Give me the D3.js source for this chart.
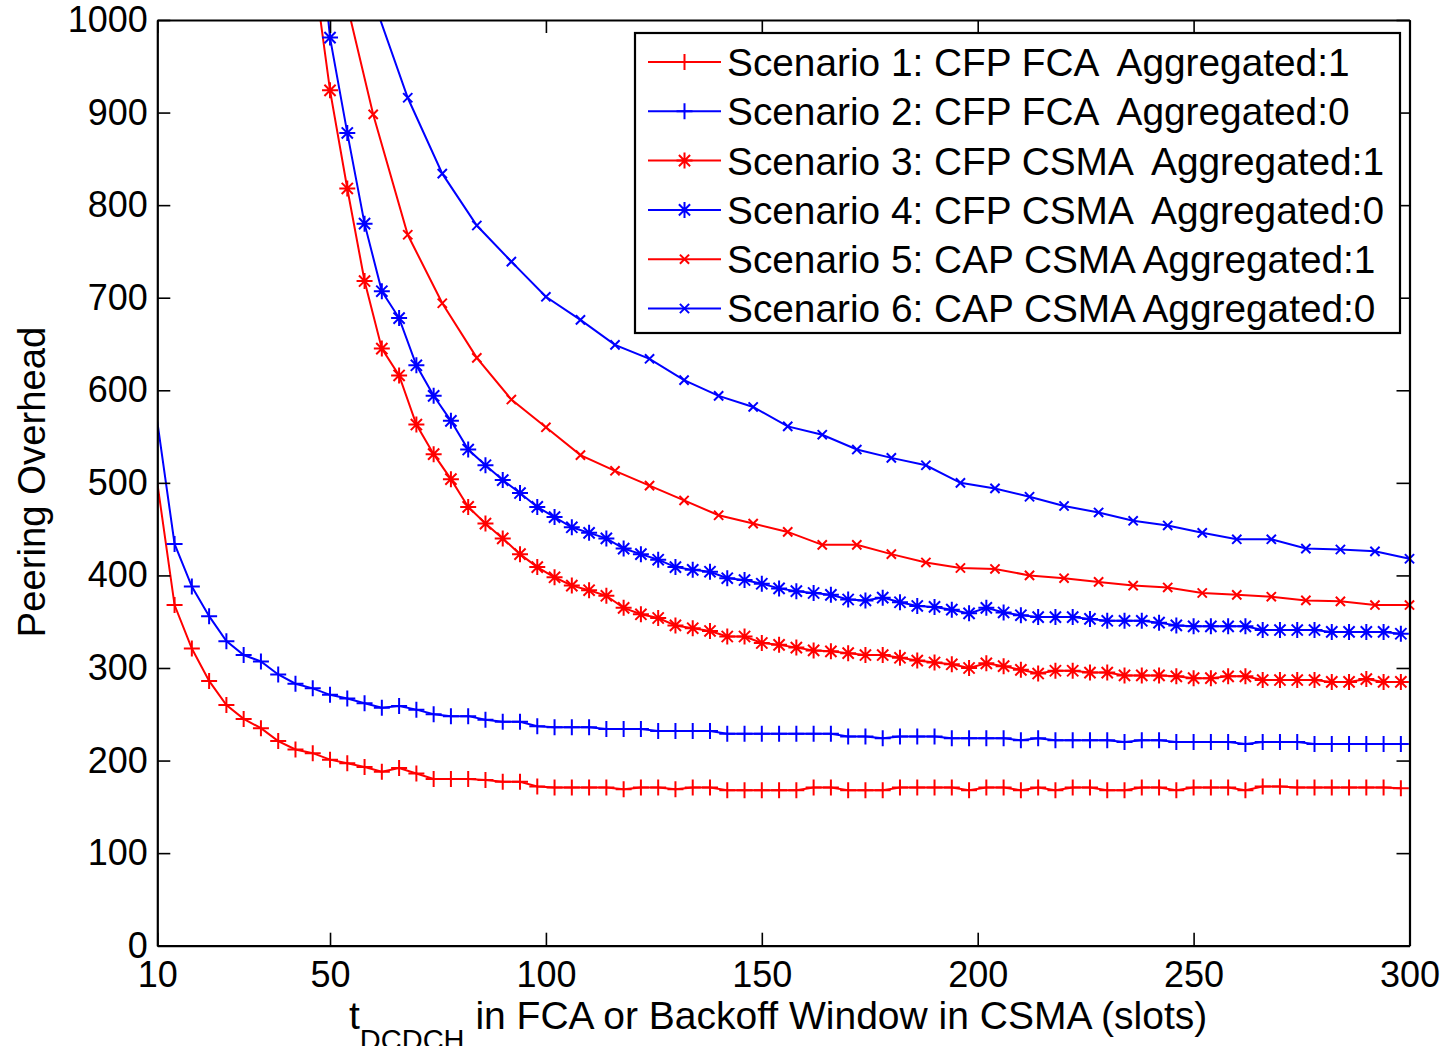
<!DOCTYPE html>
<html>
<head>
<meta charset="utf-8">
<script src="https://cdn.jsdelivr.net/npm/d3@7"></script>
<style>
  html, body { margin: 0; padding: 0; background: #fff; }
  text { font-family: "Liberation Sans", Arial, sans-serif; fill: #000; }
</style>
</head>
<body>
<svg id="chart" width="1443" height="1046"></svg>
<script>
var W = 1443, H = 1046;

// x grids (slots)
var xFine = d3.range(10, 299, 4);      // scenarios 1,2
var xStar = d3.range(46, 299, 4);      // scenarios 3,4
var xCross = d3.range(52, 301, 8);     // scenarios 5,6

// series values
var s1 = [500, 368, 321, 286, 260, 245, 235, 221, 212, 208,
  201, 197, 193, 188, 192, 186, 180, 180, 180, 179,
  177, 177, 172, 171, 171, 171, 171, 169, 171, 171,
  169, 171, 171, 168, 168, 168, 168, 168, 171, 171,
  168, 168, 168, 171, 171, 171, 171, 168, 171, 171,
  168, 171, 168, 171, 171, 168, 168, 171, 171, 168,
  171, 171, 171, 168, 172, 172, 171, 171, 171, 171,
  171, 171, 170];
var s2 = [566, 434, 388, 356, 329, 314, 307, 293, 283, 278,
  271, 267, 262, 257, 259, 255, 250, 248, 248, 244,
  242, 242, 237, 236, 236, 236, 234, 234, 234, 232,
  232, 232, 232, 229, 229, 229, 229, 229, 229, 229,
  226, 226, 224, 226, 226, 226, 224, 224, 224, 224,
  222, 224, 222, 222, 222, 222, 220, 222, 222, 220,
  220, 220, 220, 218, 220, 220, 220, 218, 218, 218,
  218, 218, 218];
var s3 = [1062, 924, 818, 718, 645, 616, 563, 531, 504, 474,
  456, 440, 423, 409, 398, 389, 384, 378, 365, 358,
  354, 346, 343, 340, 334, 334, 327, 325, 322, 319,
  318, 316, 314, 314, 311, 308, 306, 304, 300, 305,
  302, 298, 294, 297, 297, 295, 295, 292, 292, 292,
  291, 289, 289, 291, 291, 287, 287, 287, 287, 285,
  285, 288, 285, 285];
var s4 = [1171, 981, 878, 780, 707, 678, 627, 594, 567, 536,
  519, 503, 489, 474, 463, 452, 446, 440, 429, 423,
  417, 409, 406, 404, 397, 395, 391, 386, 383, 381,
  379, 374, 373, 376, 371, 367, 366, 363, 359, 365,
  360, 357, 355, 355, 355, 353, 351, 351, 351, 349,
  346, 345, 345, 345, 345, 341, 341, 341, 341, 339,
  339, 339, 339, 337];
var s5 = [1055, 898, 768, 694, 635, 590, 560, 530, 513, 497,
  481, 465, 456, 447, 433, 433, 423, 414, 408, 407,
  400, 397, 393, 389, 387, 381, 379, 377, 373, 372,
  368, 368];
var s6 = [1200, 1022, 916, 834, 778, 739, 701, 676, 649, 634,
  611, 594, 582, 561, 552, 536, 527, 519, 500, 494,
  485, 475, 468, 459, 454, 446, 439, 439, 429, 428,
  426, 418];

var legendLabels = [
  "Scenario 1: CFP FCA  Aggregated:1",
  "Scenario 2: CFP FCA  Aggregated:0",
  "Scenario 3: CFP CSMA  Aggregated:1",
  "Scenario 4: CFP CSMA  Aggregated:0",
  "Scenario 5: CAP CSMA Aggregated:1",
  "Scenario 6: CAP CSMA Aggregated:0"
];
var xTicks = [10, 50, 100, 150, 200, 250, 300];
var yTicks = [0, 100, 200, 300, 400, 500, 600, 700, 800, 900, 1000];

var series = [
  {xs: xFine, ys: s1, color: "#ff0000", marker: "plus"},
  {xs: xFine, ys: s2, color: "#0000ff", marker: "plus"},
  {xs: xStar, ys: s3, color: "#ff0000", marker: "star"},
  {xs: xStar, ys: s4, color: "#0000ff", marker: "star"},
  {xs: xCross, ys: s5, color: "#ff0000", marker: "cross"},
  {xs: xCross, ys: s6, color: "#0000ff", marker: "cross"}
];

var L = 157.3, R = 1409.5, T = 20, B = 945.7;

var x = d3.scaleLinear().domain([10, 300]).range([L, R]);
var y = d3.scaleLinear().domain([0, 1000]).range([B, T]);

var svg = d3.select("#chart");

svg.append("defs").append("clipPath").attr("id", "plotclip")
  .append("rect").attr("x", L).attr("y", T).attr("width", R - L).attr("height", B - T);

// marker shapes
function markerPath(type) {
  var p = 8, c = 4.6, s = 5.6;
  if (type == "plus") return "M" + (-p) + ",0H" + p + "M0," + (-p) + "V" + p;
  if (type == "cross") return "M" + (-c) + "," + (-c) + "L" + c + "," + c + "M" + (-c) + "," + c + "L" + c + "," + (-c);
  // star = plus + cross
  return "M" + (-p) + ",0H" + p + "M0," + (-p) + "V" + p +
    "M" + (-s) + "," + (-s) + "L" + s + "," + s + "M" + (-s) + "," + s + "L" + s + "," + (-s);
}

var line = d3.line()
  .x(function(d){ return x(d[0]); })
  .y(function(d){ return y(d[1]); });

var plot = svg.append("g");

series.forEach(function(s) {
  var pts = s.xs.map(function(v, i){ return [v, s.ys[i]]; });
  plot.append("path")
    .attr("d", line(pts))
    .attr("clip-path", "url(#plotclip)")
    .attr("fill", "none")
    .attr("stroke", s.color)
    .attr("stroke-width", 2);
  // no marker on the y axis itself or above the top
  plot.selectAll(null)
    .data(pts.filter(function(d){ return d[1] <= 1000 && d[0] > 10; }))
    .enter().append("path")
    .attr("transform", function(d){ return "translate(" + x(d[0]) + "," + y(d[1]) + ")"; })
    .attr("d", markerPath(s.marker))
    .attr("fill", "none")
    .attr("stroke", s.color)
    .attr("stroke-width", 2);
});

// axes, MATLAB-style inward ticks on all sides
var fs = 36;
var gx = svg.append("g").attr("transform", "translate(0," + B + ")")
  .call(d3.axisBottom(x).tickValues(xTicks).tickSize(-13).tickSizeOuter(0).tickPadding(15.5).tickFormat(d3.format("d")));
var gy = svg.append("g").attr("transform", "translate(" + L + ",0)")
  .call(d3.axisLeft(y).tickValues(yTicks).tickSize(-13).tickSizeOuter(0).tickPadding(9.5).tickFormat(d3.format("d")));
var gt = svg.append("g").attr("transform", "translate(0," + T + ")")
  .call(d3.axisTop(x).tickValues(xTicks).tickSize(-13).tickSizeOuter(0).tickFormat(""));
var gr = svg.append("g").attr("transform", "translate(" + R + ",0)")
  .call(d3.axisRight(y).tickValues(yTicks).tickSize(-13).tickSizeOuter(0).tickFormat(""));

[gx, gy, gt, gr].forEach(function(g) {
  g.select(".domain").attr("stroke", "#000").attr("stroke-width", 2.2);
  g.selectAll(".tick line").attr("stroke", "#000").attr("stroke-width", 1.6);
  g.selectAll(".tick text")
    .style("font-family", "'Liberation Sans', Arial, sans-serif")
    .style("font-size", fs + "px")
    .attr("fill", "#000");
});

// axis titles
var xl = svg.append("text")
  .attr("x", 349)
  .attr("y", 1029)
  .style("font-size", "39px");
xl.append("tspan").text("t");
xl.append("tspan").attr("dy", 21).style("font-size", "29px").text("DCDCH");
xl.append("tspan").attr("dy", -21).text(" in FCA or Backoff Window in CSMA (slots)");

svg.append("text")
  .attr("transform", "translate(45,482) rotate(-90)")
  .attr("text-anchor", "middle")
  .style("font-size", "38.3px")
  .text("Peering Overhead");

// legend
var lg = svg.append("g");
lg.append("rect")
  .attr("x", 635).attr("y", 33)
  .attr("width", 765).attr("height", 300)
  .attr("fill", "#fff")
  .attr("stroke", "#000")
  .attr("stroke-width", 2.2);

legendLabels.forEach(function(lab, i) {
  var cy = 62 + i * 49.3;
  var s = series[i];
  lg.append("line")
    .attr("x1", 648).attr("x2", 721)
    .attr("y1", cy).attr("y2", cy)
    .attr("stroke", s.color).attr("stroke-width", 2);
  lg.append("path")
    .attr("transform", "translate(684.5," + cy + ")")
    .attr("d", markerPath(s.marker))
    .attr("fill", "none")
    .attr("stroke", s.color).attr("stroke-width", 2);
  lg.append("text")
    .attr("x", 727)
    .attr("y", cy)
    .attr("dy", "0.36em")
    .style("font-size", "38.8px")
    .style("white-space", "pre")
    .attr("xml:space", "preserve")
    .text(lab);
});
</script>
</body>
</html>
